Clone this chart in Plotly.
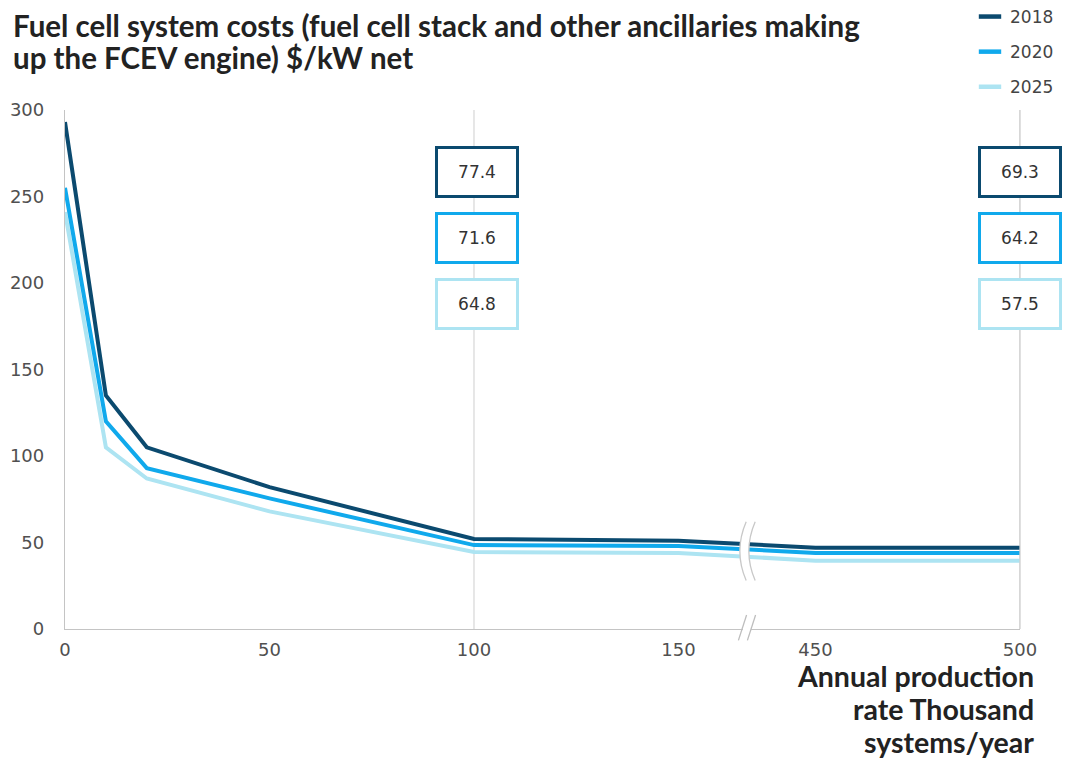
import plotly.graph_objects as go

# ---- data ----
production = [0, 10, 20, 50, 100, 150, 450, 500]          # thousand systems/year
cost_2018 = [293, 135, 105, 82, 52, 51, 47, 47]
cost_2020 = [255, 120, 93, 75.5, 48.5, 48, 44, 44]
cost_2025 = [241, 105, 87, 68, 44.5, 44, 39.5, 39.5]
years = ["2018", "2020", "2025"]
colors = ["#0b4a6f", "#10a9ec", "#ade4f2"]
label_x = [100, 500]
labels_100 = ["77.4", "71.6", "64.8"]
labels_500 = ["69.3", "64.2", "57.5"]
x_ticks = [0, 50, 100, 150, 450, 500]
y_ticks = [0, 50, 100, 150, 200, 250, 300]

title_lines = ["Fuel cell system costs (fuel cell stack and other ancillaries making",
               "up the FCEV engine) $/kW net"]
x_title_lines = ["Annual production", "rate Thousand", "systems/year"]

# broken axis scale: 150 -> 450 gap compressed
BREAK_LO, BREAK_HI, GAP = 150, 450, 33.5
def sx(v):
    return v if v <= BREAK_LO else v - (BREAK_HI - BREAK_LO) + GAP

xs = [sx(v) for v in production]
x_break = sx(BREAK_LO) + GAP / 2

FONT = "DejaVu Sans, sans-serif"
BOLD = "Lato, sans-serif"

W, H = 1066, 760
L, R, T, B = 65, 46, 110, 131
pw, ph = W - L - R, H - T - B
def px_x(p):
    return (p - L) / pw
def px_y(p):
    return (H - B - p) / ph

fig = go.Figure()
series = [cost_2018, cost_2020, cost_2025]
for i in [2, 1, 0]:
    fig.add_trace(go.Scatter(x=xs, y=series[i], mode="lines",
                             line=dict(color=colors[i], width=4),
                             showlegend=False, hoverinfo="skip"))
for i in range(3):
    fig.add_trace(go.Scatter(x=[None], y=[None], mode="markers", name=years[i],
                             legendgroup=years[i],
                             marker=dict(symbol="line-ew", size=16,
                                         line=dict(color=colors[i], width=4.5))))

shapes = []
# vertical gridlines at label positions
for lx in label_x:
    shapes.append(dict(type="line", xref="x", yref="paper", x0=sx(lx), x1=sx(lx),
                       y0=0, y1=1, line=dict(color="#d9d9d9", width=1.3), layer="below"))

# break marks through the lines
b = x_break
d = 1.1
path_fill = (f"M {b-d+0.9},62 Q {b-d-2.2},45 {b-d+0.9},28 "
             f"L {b+d+0.9},28 Q {b+d-2.2},45 {b+d+0.9},62 Z")
shapes.append(dict(type="path", xref="x", yref="y", path=path_fill,
                   fillcolor="white", line=dict(width=0)))
for off in (-d, d):
    shapes.append(dict(type="path", xref="x", yref="y",
                       path=f"M {b+off+0.9},62 Q {b+off-2.2},45 {b+off+0.9},28",
                       line=dict(color="#c8c8c8", width=1.3)))
# axis break slashes
shapes.append(dict(type="rect", xref="x", yref="paper", x0=b - 1.0, x1=b + 1.0,
                   y0=-0.01, y1=0.01, fillcolor="white", line=dict(width=0)))
for off in (-1.1, 1.1):
    shapes.append(dict(type="line", xref="x", yref="paper",
                       x0=b + off - 1.0, x1=b + off + 1.0, y0=-0.022, y1=0.027,
                       line=dict(color="#bdbdbd", width=1.3)))
# right border line
shapes.append(dict(type="line", xref="paper", yref="paper", x0=1, x1=1, y0=0, y1=1,
                   line=dict(color="#d0d0d0", width=1.3)))

annotations = []
box_y_px = [146, 212, 278]
for lx, labs, xs_ in zip(label_x, [labels_100, labels_500], [3, 0]):
    for j, t in enumerate(labs):
        annotations.append(dict(x=sx(lx), y=px_y(box_y_px[j]), xref="x", yref="paper",
                                xshift=xs_, text=t, showarrow=False, width=78, height=46,
                                bgcolor="white", bordercolor=colors[j], borderwidth=3,
                                borderpad=0, font=dict(family=FONT, size=17, color="#333333")))
for k, line in enumerate(x_title_lines):
    annotations.append(dict(x=px_x(1036), y=px_y(676 + 33 * k), xref="paper", yref="paper",
                            text=f"<b>{line}</b>", showarrow=False, xanchor="right",
                            yanchor="middle", align="right",
                            font=dict(family=BOLD, size=28.5, color="#222222")))
for k, line in enumerate(title_lines):
    annotations.append(dict(x=px_x(11), y=px_y(25 + 33 * k), xref="paper", yref="paper",
                            text=f"<b>{line}</b>", showarrow=False, xanchor="left",
                            yanchor="middle", align="left",
                            font=dict(family=BOLD, size=29.5, color="#222222")))

fig.update_layout(
    width=W, height=H,
    margin=dict(l=L, r=R, t=T, b=B, autoexpand=False),
    paper_bgcolor="white", plot_bgcolor="white",
    xaxis=dict(range=[0, sx(500)], tickvals=[sx(v) for v in x_ticks],
               ticktext=[str(v) for v in x_ticks], showgrid=False, zeroline=False,
               showline=True, linecolor="#c4c4c4", linewidth=1.3, ticks="",
               ticklabelstandoff=4,
               tickfont=dict(family=FONT, size=18, color="#505050"), fixedrange=True),
    yaxis=dict(range=[0, 300], tickvals=y_ticks, showgrid=False, zeroline=False,
               showline=True, linecolor="#c4c4c4", linewidth=1.3, ticks="",
               ticklabelstandoff=16,
               tickfont=dict(family=FONT, size=18, color="#505050"), fixedrange=True),
    legend=dict(x=px_x(970), y=px_y(-1), xanchor="left", yanchor="top",
                font=dict(family=FONT, size=17, color="#444444"),
                tracegroupgap=10, traceorder="grouped", bgcolor="rgba(0,0,0,0)"),
    shapes=shapes, annotations=annotations,
)

fig.write_html("out.html")
